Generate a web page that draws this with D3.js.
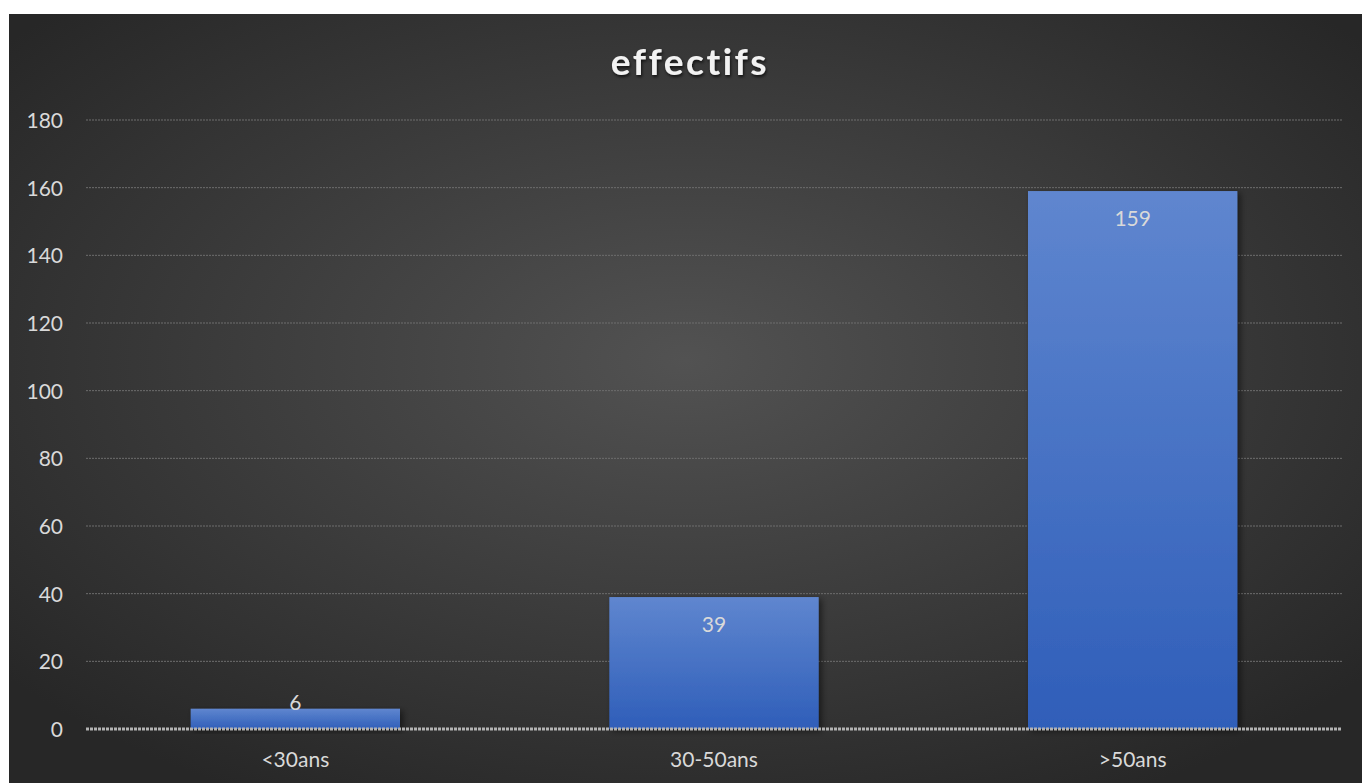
<!DOCTYPE html>
<html lang="fr">
<head>
<meta charset="UTF-8">
<title>effectifs</title>
<script src="https://d3js.org/d3.v7.min.js"></script>
<style>
    body { margin: 0; background: #fff; }
    svg { display: block; }
    .tick text { font-family: Lato, "Open Sans", sans-serif; font-size: 21px; fill: #d9d9d9; }
</style>
</head>
<body>
<svg id="chart" width="1362" height="783"></svg>
<script>
    const categories = ["<30ans", "30-50ans", ">50ans"];
    const values = [6, 39, 159];
    const yTicks = [0, 20, 40, 60, 80, 100, 120, 140, 160, 180];

    const svg = d3.select("#chart");
    const W = 1362, H = 783;
    const frame = { x: 9, y: 14 };
    const plot = { left: 86, right: 1342, top: 120, bottom: 729 };

    const defs = svg.append("defs");
    const bg = defs.append("radialGradient").attr("id", "bg")
        .attr("cx", "50%").attr("cy", "45%").attr("r", "65%");
    bg.append("stop").attr("offset", "0%").attr("stop-color", "#525252");
    bg.append("stop").attr("offset", "100%").attr("stop-color", "#272727");

    const barGrad = defs.append("linearGradient").attr("id", "bar")
        .attr("x1", 0).attr("y1", 0).attr("x2", 0).attr("y2", 1);
    barGrad.append("stop").attr("offset", "0%").attr("stop-color", "#5f86cf");
    barGrad.append("stop").attr("offset", "100%").attr("stop-color", "#2f5eb9");

    const shadow = defs.append("filter").attr("id", "shadow")
        .attr("x", "-10%").attr("y", "-10%").attr("width", "130%").attr("height", "130%");
    shadow.append("feDropShadow").attr("dx", 3).attr("dy", 2)
        .attr("stdDeviation", 3).attr("flood-color", "#000").attr("flood-opacity", 0.5);

    const titleShadow = defs.append("filter").attr("id", "tshadow");
    titleShadow.append("feDropShadow").attr("dx", 1).attr("dy", 2)
        .attr("stdDeviation", 1.5).attr("flood-color", "#000").attr("flood-opacity", 0.7);

    svg.append("rect")
        .attr("x", frame.x).attr("y", frame.y)
        .attr("width", W - frame.x).attr("height", H - frame.y)
        .attr("fill", "url(#bg)");

    const x = d3.scaleBand().domain(categories)
        .range([plot.left, plot.right]).paddingInner(0.5).paddingOuter(0.25);
    const y = d3.scaleLinear().domain([0, 180]).range([plot.bottom, plot.top]);

    // gridlines
    svg.append("g").selectAll("line").data(yTicks.filter(d => d > 0)).join("line")
        .attr("x1", plot.left).attr("x2", plot.right)
        .attr("y1", d => y(d)).attr("y2", d => y(d))
        .attr("stroke", "#6e6e6e").attr("stroke-width", 1)
        .attr("stroke-dasharray", "2,1");

    // y axis labels
    const yAxis = svg.append("g").attr("transform", `translate(${plot.left - 23},0)`)
        .call(d3.axisLeft(y).tickValues(yTicks).tickSize(0).tickPadding(0));
    yAxis.select(".domain").remove();
    yAxis.selectAll("text").attr("dy", "0.35em");

    // bars
    svg.append("g").selectAll("rect").data(values).join("rect")
        .attr("x", (d, i) => x(categories[i]))
        .attr("y", d => y(d))
        .attr("width", x.bandwidth())
        .attr("height", d => y(0) - y(d))
        .attr("fill", "url(#bar)")
        .attr("filter", "url(#shadow)");

    // x axis line
    svg.append("line")
        .attr("x1", plot.left).attr("x2", plot.right)
        .attr("y1", y(0)).attr("y2", y(0))
        .attr("stroke", "#b3b3b3").attr("stroke-width", 3)
        .attr("stroke-dasharray", "3,1");

    const xAxis = svg.append("g").attr("transform", `translate(0,${plot.bottom + 31})`)
        .call(d3.axisBottom(x).tickSize(0).tickPadding(0));
    xAxis.select(".domain").remove();
    xAxis.selectAll("text").attr("dy", "0.35em");

    // data labels
    svg.append("g").selectAll("text").data(values).join("text")
        .attr("x", (d, i) => x(categories[i]) + x.bandwidth() / 2)
        .attr("y", d => (y(0) - y(d) > 40 ? y(d) + 28 : y(d) - 6))
        .attr("dy", "0.35em")
        .attr("text-anchor", "middle")
        .attr("font-family", "Lato, 'Open Sans', sans-serif")
        .attr("font-size", 21)
        .attr("fill", "#d9d9d9")
        .text(d => d);

    // title
    svg.append("text")
        .attr("x", 690).attr("y", 62)
        .attr("dy", "0.35em")
        .attr("text-anchor", "middle")
        .attr("font-family", "Lato, 'Open Sans', sans-serif")
        .attr("font-weight", "bold")
        .attr("font-size", 37)
        .attr("letter-spacing", 2.5)
        .attr("fill", "#f2f2f2")
        .attr("filter", "url(#tshadow)")
        .text("effectifs");
</script>
</body>
</html>
